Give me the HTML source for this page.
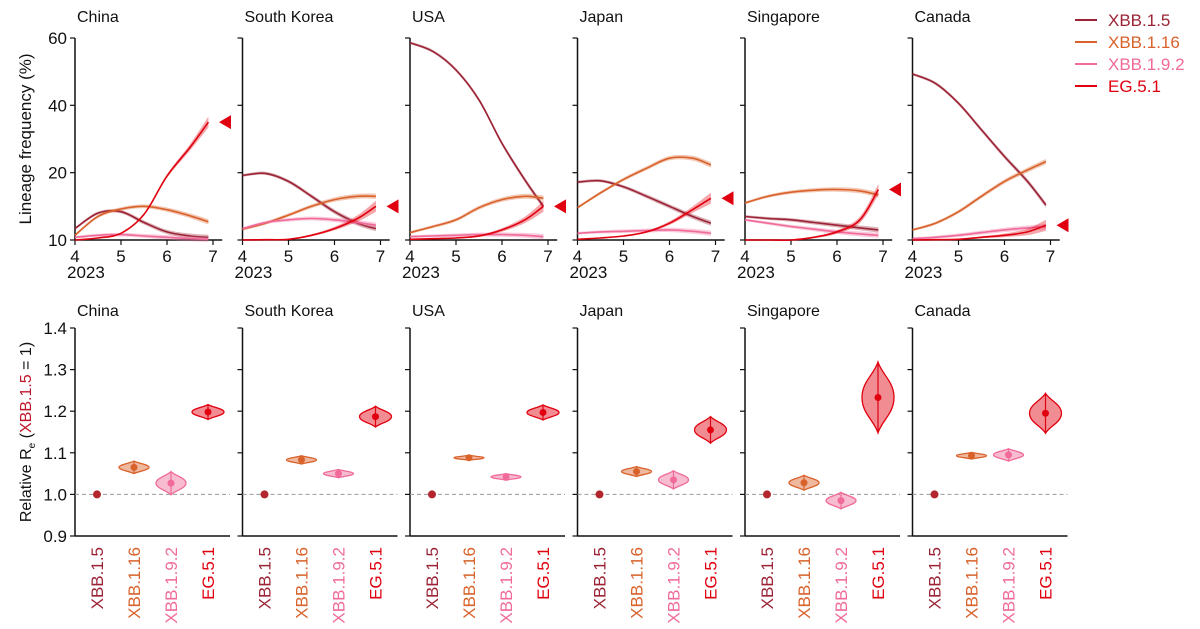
<!DOCTYPE html>
<html><head><meta charset="utf-8">
<style>
html,body{margin:0;padding:0;background:#fff;}
svg{display:block;font-family:"Liberation Sans",Arial,sans-serif;}
</style></head>
<body>
<svg id="c" width="1200" height="629" viewBox="0 0 1200 629"></svg>
<script>
const countries = ["China","South Korea","USA","Japan","Singapore","Canada"];
const variants = ["XBB.1.5","XBB.1.16","XBB.1.9.2","EG.5.1"];
const colors = ["#9b2335","#d9622b","#f06a9a","#e0000f"];
const months = [4,4.5,5,5.5,6,6.5,6.9];
const yTicksTop = [10,20,40,60];
const xTicks = [4,5,6,7];
const yTicksBot = [0.9,1.0,1.1,1.2,1.3,1.4];
// frequency (%) per country, per variant
const freqXBB15 = [[11.7,14,14.2,12.6,11.2,10.6,10.4],[19.6,19.9,18.7,16.5,14.2,12.5,11.7],[58.6,56,50.5,41.6,28.7,18.9,15],[18.6,18.8,17.9,16.5,15,13.5,12.5],[13.5,13.2,13,12.6,12.2,11.8,11.5],[49.3,46.5,40.6,32.7,24.8,18.7,15.2]];
const freqXBB116 = [[10.7,13.5,14.6,15,14.5,13.6,12.7],[11.6,12.5,13.7,15,16,16.5,16.5],[11.1,12,13,14.8,16,16.5,16.2],[14.8,17,19,21.3,24.3,24.3,22.3],[15.5,16.5,17.1,17.4,17.5,17.3,16.7],[11.5,12.5,14.2,16.5,18.7,20.8,23.3]];
const freqXBB192 = [[10.4,10.7,10.8,10.6,10.4,10.2,10.1],[11.7,12.6,13,13.2,13,12.6,12.2],[10.5,10.6,10.7,10.8,10.8,10.7,10.5],[11,11.2,11.3,11.4,11.5,11.3,11],[13,12.5,12,11.6,11.2,10.9,10.7],[10.2,10.4,10.7,11.1,11.5,11.8,12]];
const freqEG51 = [[10,10.3,11,13.8,19.5,27.5,35],[10,10.05,10.1,10.7,11.7,13.2,15],[10.1,10.2,10.3,10.6,11.5,13,15],[10.1,10.3,10.6,11.2,12.5,14.5,16.2],[10,10,10,10.4,11.2,13,17.5],[10,10.05,10.1,10.4,10.7,11.2,12.2]];
const freqs = [freqXBB15,freqXBB116,freqXBB192,freqEG51];
// relative Re: centre, half-range per country
const reXBB116 = [1.065,1.083,1.088,1.055,1.028,1.093];
const reXBB116Err = [0.015,0.01,0.006,0.012,0.018,0.008];
const reXBB192 = [1.027,1.05,1.042,1.035,0.985,1.095];
const reXBB192Err = [0.028,0.01,0.008,0.022,0.02,0.015];
const reEG51 = [1.198,1.187,1.197,1.155,1.233,1.195];
const reEG51Err = [0.018,0.025,0.018,0.032,0.085,0.048];

const NS="http://www.w3.org/2000/svg";
const svg=document.getElementById('c');
function mk(tag,attrs,parent){const e=document.createElementNS(NS,tag);for(const k in attrs)e.setAttribute(k,attrs[k]);(parent||svg).appendChild(e);return e;}
const panelX0=75, pitch=167.5, monthW=46;
function xT(p,m){return panelX0+p*pitch+(m-4)*monthW;}
const topPx=[240,172.7,105.3,38];
function yT(v){for(let i=0;i<yTicksTop.length-1;i++){if(v<=yTicksTop[i+1]||i==yTicksTop.length-2){const a=yTicksTop[i],b=yTicksTop[i+1];return topPx[i]+(v-a)/(b-a)*(topPx[i+1]-topPx[i]);}}}
function yB(v){return 536-(v-0.9)*416;}
function smooth(pts){let d="M"+pts[0][0]+","+pts[0][1];for(let i=0;i<pts.length-1;i++){const p0=pts[Math.max(0,i-1)],p1=pts[i],p2=pts[i+1],p3=pts[Math.min(pts.length-1,i+2)];const c1=[p1[0]+(p2[0]-p0[0])/6,p1[1]+(p2[1]-p0[1])/6],c2=[p2[0]-(p3[0]-p1[0])/6,p2[1]-(p3[1]-p1[1])/6];d+=" C"+c1[0].toFixed(1)+","+c1[1].toFixed(1)+" "+c2[0].toFixed(1)+","+c2[1].toFixed(1)+" "+p2[0].toFixed(1)+","+p2[1].toFixed(1);}return d;}
function txt(x,y,s,attrs,parent){const t=mk('text',Object.assign({x:x,y:y,'font-size':16,fill:'#111'},attrs||{}),parent);t.textContent=s;return t;}

// legend
const lg=mk('g',{});


variants.forEach((v,i)=>{const y=20+i*22;
  const g=mk('g',{},lg);
  
  
  mk('line',{x1:1075,x2:1097,y1:y,y2:y,stroke:colors[i],'stroke-width':2},g);
  txt(1108,y+6,v,{fill:colors[i],'font-size':17},g);});

// axis titles
const yt1=txt(0,0,"Lineage frequency (%)",{transform:"translate(31,139) rotate(-90)",'text-anchor':'middle','font-size':17});


const yt2=mk('text',{transform:"translate(31,432) rotate(-90)",'text-anchor':'middle','font-size':16,fill:'#111'});


yt2.innerHTML='Relative R<tspan font-size="10" dy="4">e</tspan><tspan dy="-4"> (</tspan><tspan fill="#c0162a">XBB.1.5</tspan> = 1)';

countries.forEach((c,p)=>{
  const ax=xT(p,4);
  const g=mk('g',{});
  
  
  txt(ax+2,22,c,{},g);
  mk('line',{x1:ax,x2:ax,y1:38,y2:240,stroke:'#111','stroke-width':1.5},g);
  mk('line',{x1:ax,x2:xT(p,7.2),y1:240,y2:240,stroke:'#111','stroke-width':1.5},g);
  yTicksTop.forEach(v=>{mk('line',{x1:ax-5,x2:ax,y1:yT(v),y2:yT(v),stroke:'#111','stroke-width':1.2},g);
    if(p==0)txt(ax-8,yT(v)+6,String(v),{'text-anchor':'end','font-size':17},g);});
  xTicks.forEach(m=>{mk('line',{x1:xT(p,m),x2:xT(p,m),y1:240,y2:245,stroke:'#111','stroke-width':1.2},g);
    txt(xT(p,m),262,String(m),{'text-anchor':'middle','font-size':17},g);});
  txt(ax-8,278,"2023",{'font-size':17},g);
  freqs.forEach((f,vi)=>{
    const vals=f[p];
    const wf=i=>(vi==3?0.6+4*Math.pow(i/6,3):2.2)*(0.6+0.6*i/6);
    const up=vals.map((v,i)=>[xT(p,months[i]),yT(v)-wf(i)]);
    const dn=vals.map((v,i)=>[xT(p,months[i]),yT(v)+wf(i)]).reverse();
    const band=mk('path',{d:smooth(up)+" L"+smooth(dn).slice(1)+" Z",fill:colors[vi],'fill-opacity':0.35,stroke:'none'},g);
    
    
    const pts=vals.map((v,i)=>[xT(p,months[i]),yT(v)]);
    const ln=mk('path',{d:smooth(pts),fill:'none',stroke:colors[vi],'stroke-width':1.6},g);
    
    
  });
  const ey=yT(freqEG51[p][6]), ex=xT(p,7)+6;
  const tri=mk('polygon',{points:`${ex},${ey} ${ex+12},${ey-7} ${ex+12},${ey+7}`,fill:'#e0000f'},g);
  
  

  // bottom panel
  const gb=mk('g',{});
  
  
  txt(ax+2,316,c,{},gb);
  mk('line',{x1:ax,x2:ax,y1:328,y2:536,stroke:'#111','stroke-width':1.5},gb);
  mk('line',{x1:ax,x2:ax+155,y1:536,y2:536,stroke:'#111','stroke-width':1.5},gb);
  mk('line',{x1:ax,x2:ax+155,y1:yB(1),y2:yB(1),stroke:'#999','stroke-width':1,'stroke-dasharray':'4,3'},gb);
  yTicksBot.forEach(v=>{mk('line',{x1:ax-5,x2:ax,y1:yB(v),y2:yB(v),stroke:'#111','stroke-width':1.2},gb);
    if(p==0)txt(ax-8,yB(v)+6,v.toFixed(1),{'text-anchor':'end','font-size':17},gb);});
  const cx=i=>ax+22+i*37;
  variants.forEach((v,i)=>{
    txt(0,0,v,{transform:`translate(${cx(i)+6},547) rotate(-90)`,'text-anchor':'end',fill:colors[i],'font-size':17},gb);
  });
  const d0=mk('circle',{cx:cx(0),cy:yB(1),r:4,fill:'#b3262e'},gb);
  
  
  [[reXBB116,reXBB116Err],[reXBB192,reXBB192Err],[reEG51,reEG51Err]].forEach((arr,k)=>{
    const vi=k+1, m=arr[0][p], e=arr[1][p], x=cx(vi);
    const top=yB(m+e), bot=yB(m-e), mid=yB(m), hw=vi==3?16:15;
    const h1=mid-top, h2=bot-mid;
    const d=`M${x},${top} C${x+hw*0.25},${top+h1*0.35} ${x+hw},${mid-h1*0.45} ${x+hw},${mid} C${x+hw},${mid+h2*0.45} ${x+hw*0.25},${bot-h2*0.35} ${x},${bot} C${x-hw*0.25},${bot-h2*0.35} ${x-hw},${mid+h2*0.45} ${x-hw},${mid} C${x-hw},${mid-h1*0.45} ${x-hw*0.25},${top+h1*0.35} ${x},${top} Z`;
    const vg=mk('g',{},gb);
    
    
    mk('path',{d:d,fill:colors[vi],'fill-opacity':0.45,stroke:colors[vi],'stroke-width':1.3},vg);
    mk('line',{x1:x,x2:x,y1:top,y2:bot,stroke:colors[vi],'stroke-width':1.2},vg);
    mk('circle',{cx:x,cy:mid,r:3.5,fill:colors[vi]},vg);
  });
});
</script>
</body></html>
